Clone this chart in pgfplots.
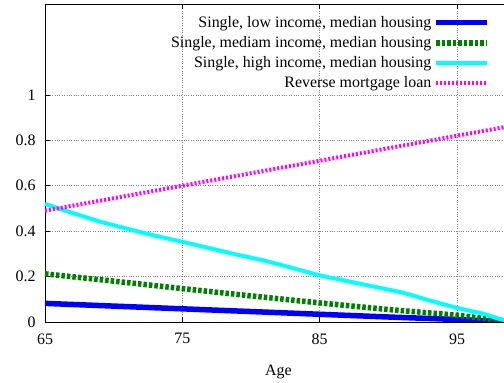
\documentclass[border=0pt]{standalone}
\usepackage{fontspec}
\setmainfont{Liberation Serif}
\usepackage{pgfplots}
\pgfplotsset{compat=1.18}
\definecolor{mgreen}{RGB}{0,128,0}
\definecolor{mcyan}{RGB}{0,255,255}
\definecolor{mmag}{RGB}{255,0,255}
\begin{document}
\begin{tikzpicture}
\begin{axis}[
  name=ax,
  scale only axis,
  width=467bp, height=318bp,
  xmin=65, xmax=99, ymin=0, ymax=1.4,
  xtick={65,75,85,95}, ytick={0,0.2,0.4,0.6,0.8,1},
  yticklabels={0,0.2,0.4,0.6,0.8,1},
  tick align=inside,
  major tick length=5bp,
  tick style={black, line width=0.6pt},
  grid=major,
  grid style={gray, dotted, line width=0.5pt},
  axis line style={black, line width=0.9pt},
  /pgf/number format/assume math mode=true,
  ticklabel style={font=\rmfamily\fontsize{16}{19}\selectfont},
  xticklabel style={yshift=-8bp},
  yticklabel style={xshift=-6bp},
  xlabel={Age},
  xlabel style={font=\rmfamily\fontsize{16}{19}\selectfont, yshift=-14bp},
  legend style={draw=none, fill=none, at={(0.953,0.968)}, anchor=north east,
    font=\rmfamily\fontsize{16}{18}\selectfont, row sep=3.6bp, inner sep=0pt,
    /tikz/every even column/.append style={column sep=12bp}},
  legend cell align=right,
  legend plot pos=right,
  legend image code/.code={\draw[#1] (0bp,0bp) -- (51bp,0bp);},
  clip=true,
]
% low income, single, median housing
\addplot[blue, line width=5.5bp] coordinates {
 (65,0.082) (70,0.070) (75,0.058) (80,0.046) (85,0.034) (90,0.022) (95,0.011) (98,0.003) (99,0)};
\addlegendentry{Single, low income, median housing}
% medium income
\addplot[mgreen, line width=5.5bp, dash pattern=on 3.5bp off 2bp] coordinates {
 (65,0.212) (70,0.180) (75,0.147) (80,0.115) (85,0.084) (90,0.055) (95,0.030) (97,0.015) (99,0)};
\addlegendentry{Single, mediam income, median housing}
% high income
\addplot[mcyan, line width=4bp] coordinates {
 (65,0.520) (67,0.480) (69,0.442) (71,0.410) (73,0.380) (75,0.353) (77,0.325) (79,0.296)
 (81,0.270) (83,0.238) (85,0.205) (87,0.180) (89,0.155) (91,0.130) (93,0.095) (95,0.062)
 (97,0.035) (98,0.015) (99,0)};
\addlegendentry{Single, high income, median housing}
% reverse mortgage
\addplot[mmag, line width=4bp, dash pattern=on 2bp off 2bp] coordinates {
 (65,0.490) (75,0.600) (85,0.710) (95,0.820) (99,0.864)};
\addlegendentry{Reverse mortgage loan}
\end{axis}
\pgfresetboundingbox
\path[use as bounding box] ([xshift=-45bp,yshift=-61bp]ax.south west) rectangle ([xshift=459bp,yshift=4bp]ax.north west);
\end{tikzpicture}
\end{document}
